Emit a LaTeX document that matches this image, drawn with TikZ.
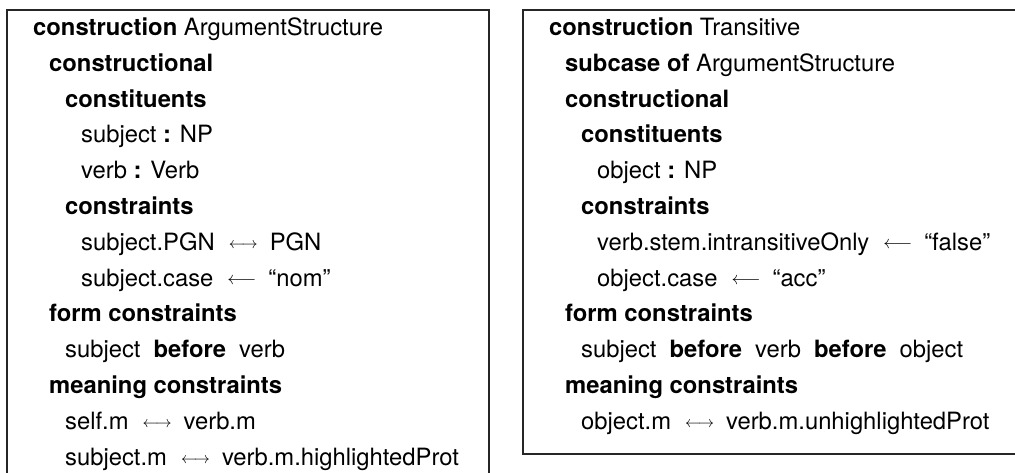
\documentclass[tikz,border=0pt]{standalone}
\usepackage{graphicx}
\usepackage{fontspec}
\setmainfont{TeX Gyre Heros}
\newcommand{\kw}[1]{\textbf{#1}}
% binding arrows with their surrounding gaps
\newcommand{\bothway}{\hspace{14pt}\raisebox{2pt}{\resizebox{29pt}{!}{$\longleftrightarrow$}}\hspace{12pt}}
\newcommand{\getsfrom}{\hspace{14pt}\raisebox{1.4pt}{\resizebox{29pt}{!}{$\longleftarrow$}}\hspace{12pt}}
\newcommand{\gap}{\hspace{13pt}}
\newcommand{\ecgline}[4]{\node[ecg] (#1) at ({#2},{35.5+(#3-1)*35.8}) {#4};}
\begin{document}
\begin{tikzpicture}[x=1pt,y=-1pt,
  ecg/.style={anchor=base west, inner sep=0pt, font=\fontsize{23.8}{28}\selectfont},
  frame/.style={draw=black!85, line width=1.3pt}]
\useasboundingbox (0,0) rectangle (1015,473);
\clip (0,0) rectangle (1015,473);
% frames of the two construction definitions
\draw[frame] (7,10) rectangle (489,500);
\draw[frame] (523,10) rectangle (1040,454);
% ArgumentStructure
\ecgline{a1}{33}{1}{\kw{construction} ArgumentStructure}
\ecgline{a2}{49}{2}{\kw{constructional}}
\ecgline{a3}{65}{3}{\kw{constituents}}
\ecgline{a4}{81}{4}{subject \kw{:} NP}
\ecgline{a5}{81}{5}{verb \kw{:} Verb}
\ecgline{a6}{65}{6}{\kw{constraints}}
\ecgline{a7}{81}{7}{subject.PGN\bothway PGN}
\ecgline{a8}{81}{8}{subject.case\getsfrom “nom”}
\ecgline{a9}{49}{9}{\kw{form constraints}}
\ecgline{a10}{65}{10}{subject\gap\kw{before}\gap verb}
\ecgline{a11}{49}{11}{\kw{meaning constraints}}
\ecgline{a12}{65}{12}{self.m\bothway verb.m}
\ecgline{a13}{65}{13}{subject.m\bothway verb.m.highlightedProt}
% Transitive
\ecgline{t1}{549}{1}{\kw{construction} Transitive}
\ecgline{t2}{565}{2}{\kw{subcase of} ArgumentStructure}
\ecgline{t3}{565}{3}{\kw{constructional}}
\ecgline{t4}{581}{4}{\kw{constituents}}
\ecgline{t5}{597}{5}{object \kw{:} NP}
\ecgline{t6}{581}{6}{\kw{constraints}}
\ecgline{t7}{597}{7}{verb.stem.intransitiveOnly\getsfrom “false”}
\ecgline{t8}{597}{8}{object.case\getsfrom “acc”}
\ecgline{t9}{565}{9}{\kw{form constraints}}
\ecgline{t10}{581}{10}{subject\gap\kw{before}\gap verb\gap\kw{before}\gap object}
\ecgline{t11}{565}{11}{\kw{meaning constraints}}
\ecgline{t12}{581}{12}{object.m\bothway verb.m.unhighlightedProt}
\end{tikzpicture}
\end{document}
